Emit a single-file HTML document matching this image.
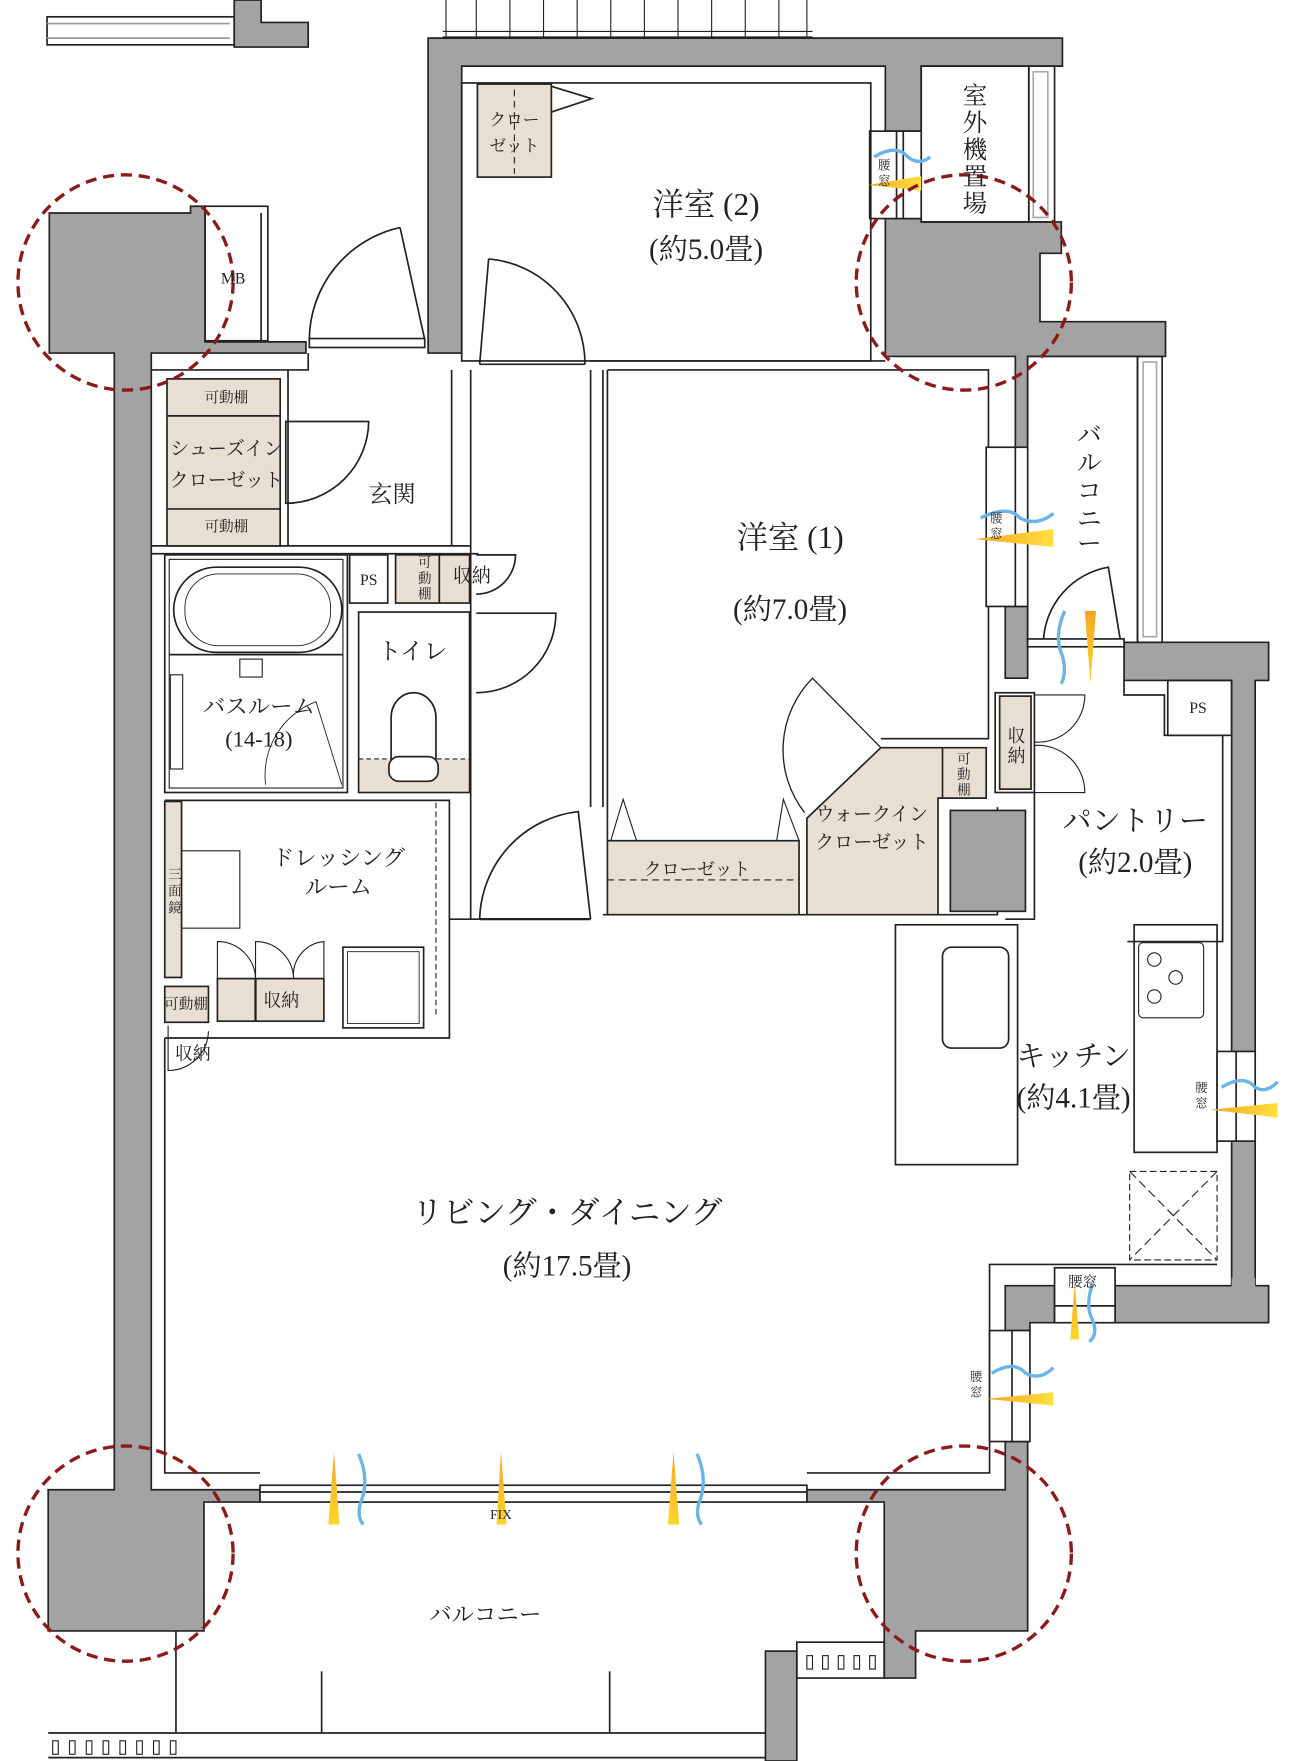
<!DOCTYPE html>
<html><head><meta charset="utf-8"><style>
html,body{margin:0;padding:0;background:#fff}
svg{display:block}
text{font-family:"Liberation Serif","Noto Serif CJK SC",serif;fill:#222;text-anchor:middle}
</style></head><body>
<svg width="1300" height="1761" viewBox="0 0 1160 1571" preserveAspectRatio="none" xmlns="http://www.w3.org/2000/svg">
<defs>
<linearGradient id="yl" x1="0" x2="1"><stop offset="0" stop-color="#f5a623"/><stop offset="1" stop-color="#ffe040"/></linearGradient>
<linearGradient id="yv" x1="0" y1="1" x2="0" y2="0"><stop offset="0" stop-color="#ffd52a"/><stop offset="1" stop-color="#f5a623"/></linearGradient>
</defs>
<g stroke="#222" stroke-width="1.5" fill="none">
<rect x="42" y="15" width="167" height="25"/>
<line x1="42" y1="21" x2="205" y2="21" stroke="#999"/><line x1="42" y1="34" x2="205" y2="34" stroke="#999"/>
<path d="M209,0 H233 V20 H275 V42 H209 Z" fill="#a3a3a3"/>
<g stroke-width="1"><path d="M395,28 H725 M395,33 H725 M398,0V35 M425,0V35 M455,0V35 M485,0V35 M515,0V35 M545,0V35 M575,0V35 M605,0V35 M635,0V35 M665,0V35 M695,0V35 M720,0V35"/></g>
<g fill="#a3a3a3">
<path d="M382,34 H948 V59 H822 V117 H790 V59 H412 V315 H382 Z"/>
<path d="M790,195 H822 V198 H947 V226 H928 V287 H1040 V318 H917 V400 H906 V318 H790 Z"/>
<rect x="897" y="541" width="20" height="64"/>
<path d="M1003,573 H1132 V607 H1120 V1147 H1099 V607 H1003 Z"/>
<path d="M897,1147 H941 V1180 H919 V1187 H897 Z"/>
<path d="M995,1147 H1132 V1180 H995 Z"/>
<rect x="1099" y="1140" width="21" height="10" stroke="none"/>
<path d="M44,190 H170 V184 H183 V305 H273 V315 H135 V1329 H182 V1329 H232 V1340 H182 V1455 H43 V1329 H102 V315 H44 Z"/>
<path d="M897,1286 H917 V1455 H817 V1497 H789 V1340 H720 V1329 H789 V1329 H897 Z"/>
<rect x="683" y="1473" width="28" height="98"/>
</g>
<rect x="917" y="318" width="98" height="255" fill="#fff"/>
<rect x="1015" y="318" width="22" height="255"/><rect x="1020" y="323" width="12" height="245" stroke="#aaa"/>
<rect x="822" y="59" width="96" height="139"/><rect x="918" y="59" width="23" height="139"/><rect x="922" y="64" width="13" height="130" stroke="#aaa"/>
<rect x="776" y="117" width="46" height="78" fill="#fff"/><line x1="800" y1="117" x2="800" y2="195"/><line x1="806" y1="117" x2="806" y2="195"/>
<rect x="183" y="184" width="56" height="120"/><line x1="233" y1="190" x2="233" y2="304"/>
<rect x="412" y="74" width="365" height="248"/>
<rect x="426" y="75" width="66" height="83" fill="#e8dfd2"/>
<path d="M492,77 L528,88 L492,100"/>
<line x1="459" y1="80" x2="459" y2="155" stroke-dasharray="6 4" stroke-width="1"/>
<path d="M276,303 H379 M379,303 L357,203 M357,203 A103,103 0 0 0 276,303"/>
<rect x="276" y="302" width="103" height="8" fill="#fff"/>
<path d="M428,325 H522 M428,325 L436,231 M436,231 A94,94 0 0 1 522,325"/>
<path d="M135,330 H257 V487 M257,330 H275 V315 M403,330 V487 M420,330 V820 M527,330 V720 M538,330 V720 M527,322 H790"/>
<path d="M135,487 H420 M135,494 H427"/>
<rect x="149" y="338" width="101" height="149" fill="#e8dfd2"/>
<line x1="149" y1="371" x2="250" y2="371"/><line x1="149" y1="454" x2="250" y2="454"/>
<path d="M255,376 H329 A74,74 0 0 1 255,449 Z" fill="none"/>
<rect x="147" y="495" width="163" height="212"/><rect x="151" y="499" width="155" height="204" stroke-width="1"/>
<rect x="155" y="506" width="150" height="76" rx="38"/><rect x="165" y="512" width="130" height="64" rx="30" stroke-width="0.8"/>
<line x1="151" y1="584" x2="306" y2="584"/>
<rect x="152" y="602" width="11" height="84" stroke-width="1"/>
<rect x="214" y="588" width="20" height="16" stroke-width="1"/>
<path d="M237,700 A70,70 0 0 1 282,626 L305,700" stroke-width="0.8"/>
<rect x="312" y="495" width="34" height="43"/>
<rect x="353" y="495" width="66" height="43" fill="#e8dfd2"/><line x1="392" y1="495" x2="392" y2="538"/>
<path d="M425,495 H460 A35,35 0 0 1 425,530"/>
<rect x="320" y="546" width="99" height="161"/>
<rect x="321" y="677" width="97" height="29" fill="#e8dfd2" stroke="none"/>
<line x1="320" y1="677" x2="419" y2="677" stroke-dasharray="4 3" stroke-width="1"/>
<path d="M349,690 V640 A20,22 0 0 1 389,640 V690 Z" fill="#fff"/>
<rect x="347" y="675" width="44" height="22" rx="9" fill="#fff"/>
<path d="M425,547 H496 A71,71 0 0 1 425,618"/>
<path d="M147,714 H401 V926 H147"/>
<rect x="147" y="715" width="15" height="157" fill="#e8dfd2"/>
<rect x="162" y="759" width="52" height="69" stroke-width="1"/>
<rect x="194" y="873" width="95" height="38" fill="#e8dfd2"/><line x1="228" y1="873" x2="228" y2="911" stroke-width="2"/>
<path d="M194,873 V840 A34,34 0 0 1 228,873 M228,873 V840 A34,34 0 0 1 262,873 A30,30 0 0 1 289,840 V873" stroke-width="1"/>
<rect x="147" y="880" width="39" height="32" fill="#e8dfd2"/>
<path d="M150,915 V955 A36,36 0 0 0 186,920" stroke-width="1"/>
<rect x="306" y="845" width="72" height="72"/><rect x="310" y="849" width="64" height="64" stroke-width="0.8"/>
<line x1="389" y1="716" x2="389" y2="908" stroke-dasharray="5 3" stroke-width="1"/>
<path d="M401,820 H428 M527,820 L516,724 A99,99 0 0 0 428,820" />
<line x1="428" y1="820" x2="527" y2="820" stroke-width="2"/>
<path d="M542,330 H882 V659 H786 M542,330 V750"/>
<path d="M538,816 H890 V720" />
<rect x="542" y="750" width="171" height="66" fill="#e8dfd2"/>
<line x1="542" y1="785" x2="713" y2="785" stroke-dasharray="6 4" stroke-width="1"/>
<line x1="722" y1="785" x2="835" y2="785" stroke-dasharray="6 4" stroke-width="1"/>
<path d="M545,750 L556,713 L568,750 M693,750 L699,713 L713,750" stroke-width="1"/>
<polygon points="786,667 880,667 880,712 837,712 837,816 720,816 720,730" fill="#e8dfd2"/>
<line x1="841" y1="667" x2="841" y2="712"/>
<path d="M786,667 L725,605 A91,91 0 0 0 718,725" stroke-width="1.2"/>
<rect x="848" y="723" width="67" height="90" fill="#a3a3a3"/>
<rect x="880" y="399" width="37" height="142" fill="#fff"/><line x1="906" y1="399" x2="906" y2="541"/>
<path d="M917,573 H1003 M1000,573 L989,506 A70,70 0 0 0 931,573"/>
<rect x="917" y="570" width="86" height="7" fill="#fff"/>
<path d="M1003,607 V620 H1039 V656 H1091 V840 H1006"/>
<rect x="1042" y="607" width="57" height="49"/>
<rect x="888" y="618" width="35" height="89"/><rect x="892" y="621" width="28" height="83" fill="#e8dfd2"/>
<path d="M923,620 H968 A42,42 0 0 1 923,662 M923,707 H968 A42,42 0 0 0 923,665" stroke-width="1"/>
<path d="M923,707 V820 H897" />
<rect x="799" y="825" width="109" height="214"/>
<rect x="841" y="845" width="59" height="90" rx="8"/>
<rect x="1012" y="825" width="74" height="203"/>
<rect x="1016" y="841" width="58" height="67" rx="4" stroke-width="1"/>
<g stroke-width="1"><circle cx="1030" cy="856" r="6"/><circle cx="1049" cy="872" r="6"/><circle cx="1030" cy="889" r="6"/></g>
<rect x="1008" y="1045" width="78" height="79" stroke-dasharray="6 3" stroke-width="1"/>
<path d="M1008,1045 L1086,1124 M1086,1045 L1008,1124" stroke-dasharray="8 4" stroke-width="1"/>
<path d="M1086,1128 H883 V1314 H720 M883,1128 V1150"/>
<rect x="1086" y="938" width="34" height="80" fill="#fff"/><line x1="1103" y1="938" x2="1103" y2="1018"/>
<rect x="941" y="1131" width="54" height="49" fill="#fff"/><line x1="941" y1="1165" x2="995" y2="1165"/>
<rect x="883" y="1187" width="36" height="99" fill="#fff"/><line x1="903" y1="1187" x2="903" y2="1286"/>
<path d="M147,926 V1314 H232"/>
<rect x="232" y="1325" width="488" height="15" fill="#fff"/><line x1="232" y1="1331" x2="720" y2="1331"/>
<path d="M43,1546 H683 M43,1568 H683 M157,1455 V1546 M287,1491 V1546 M544,1491 V1546" />
<rect x="711" y="1465" width="78" height="32"/>
</g>
<g fill="none" stroke="#222" stroke-width="1">
<rect x="47" y="1553" width="5" height="12"/><rect x="62" y="1553" width="5" height="12"/><rect x="77" y="1553" width="5" height="12"/><rect x="92" y="1553" width="5" height="12"/><rect x="107" y="1553" width="5" height="12"/><rect x="122" y="1553" width="5" height="12"/><rect x="137" y="1553" width="5" height="12"/><rect x="152" y="1553" width="5" height="12"/>
<rect x="720" y="1477" width="5" height="12"/><rect x="734" y="1477" width="5" height="12"/><rect x="748" y="1477" width="5" height="12"/><rect x="762" y="1477" width="5" height="12"/><rect x="776" y="1477" width="5" height="12"/>
</g>
<g>
<polygon points="293,1360 303,1360 298,1295" fill="url(#yv)"/>
<polygon points="443,1360 452,1360 447,1295" fill="url(#yv)"/>
<polygon points="596,1360 606,1360 601,1295" fill="url(#yv)"/>
<path d="M320,1297 Q330,1320 322,1340 Q318,1352 324,1360" stroke="#6ab4e8" stroke-width="3" fill="none"/>
<path d="M622,1297 Q632,1320 624,1340 Q620,1352 626,1360" stroke="#6ab4e8" stroke-width="3" fill="none"/>
<polygon points="968,545 978,545 973,610" fill="url(#yv)"/>
<path d="M950,545 Q940,568 948,585 Q952,600 947,610" stroke="#6ab4e8" stroke-width="3" fill="none"/>
<polygon points="870,481 940,472 940,488" fill="url(#yl)"/>
<path d="M875,462 Q900,450 910,462 Q925,470 940,458" stroke="#6ab4e8" stroke-width="3" fill="none"/>
<polygon points="775,165 822,157 822,170" fill="url(#yl)"/>
<path d="M780,140 Q800,128 810,140 Q820,148 830,140" stroke="#6ab4e8" stroke-width="3" fill="none"/>
<polygon points="1080,990 1140,984 1140,997" fill="url(#yl)"/>
<path d="M1090,970 Q1110,958 1120,970 Q1130,976 1140,965" stroke="#6ab4e8" stroke-width="3" fill="none"/>
<polygon points="955,1195 963,1195 959,1145" fill="url(#yv)"/>
<path d="M975,1145 Q968,1165 975,1178 Q980,1190 972,1197" stroke="#6ab4e8" stroke-width="3" fill="none"/>
<polygon points="880,1248 940,1242 940,1254" fill="url(#yl)"/>
<path d="M885,1225 Q905,1213 915,1225 Q928,1232 940,1220" stroke="#6ab4e8" stroke-width="3" fill="none"/>
</g>
<g fill="none" stroke="#8b1a1a" stroke-width="3" stroke-dasharray="10 6">
<circle cx="112" cy="252" r="96"/><circle cx="860" cy="252" r="96"/><circle cx="112" cy="1386" r="96"/><circle cx="860" cy="1386" r="96"/>
</g>
<text x="630" y="192" font-size="28">洋室 (2)</text>
<text x="630" y="231" font-size="26">(約5.0畳)</text>
<g font-size="22"><text x="870" y="93">室</text><text x="870" y="117">外</text><text x="870" y="141">機</text><text x="870" y="165">置</text><text x="870" y="189">場</text></g>
<text x="459" y="112" font-size="15">クロー</text><text x="459" y="135" font-size="15">ゼット</text>
<text x="208" y="253" font-size="14">MB</text>
<text x="202" y="359" font-size="13">可動棚</text>
<text x="202" y="406" font-size="17">シューズイン</text><text x="202" y="434" font-size="17">クローゼット</text>
<text x="202" y="474" font-size="13">可動棚</text>
<text x="350" y="448" font-size="21">玄関</text>
<text x="329" y="522" font-size="14">PS</text>
<g font-size="12"><text x="379" y="506">可</text><text x="379" y="520">動</text><text x="379" y="534">棚</text></g>
<text x="421" y="519" font-size="17">収納</text>
<text x="368" y="588" font-size="21">トイレ</text>
<text x="231" y="637" font-size="20">バスルーム</text><text x="231" y="666" font-size="20">(14-18)</text>
<text x="302" y="772" font-size="20">ドレッシング</text><text x="302" y="798" font-size="20">ルーム</text>
<g font-size="12"><text x="156" y="784">三</text><text x="156" y="799">面</text><text x="156" y="814">鏡</text></g>
<text x="166" y="900" font-size="13">可動棚</text>
<text x="251" y="898" font-size="16">収納</text>
<text x="172" y="945" font-size="16">収納</text>
<text x="705" y="489" font-size="28">洋室 (1)</text>
<text x="705" y="552" font-size="26">(約7.0畳)</text>
<g font-size="22"><text x="972" y="395">バ</text><text x="972" y="420">ル</text><text x="972" y="445">コ</text><text x="972" y="470">ニ</text><text x="972" y="492">ー</text></g>
<g font-size="11"><text x="889" y="466">腰</text><text x="889" y="480">窓</text><text x="789" y="151">腰</text><text x="789" y="165">窓</text><text x="1072" y="974">腰</text><text x="1072" y="988">窓</text><text x="871" y="1232">腰</text><text x="871" y="1246">窓</text></g>
<text x="966" y="1148" font-size="13">腰窓</text>
<g font-size="16"><text x="907" y="662">収</text><text x="907" y="680">納</text></g>
<text x="1069" y="636" font-size="14">PS</text>
<g font-size="12"><text x="860" y="681">可</text><text x="860" y="695">動</text><text x="860" y="709">棚</text></g>
<text x="778" y="732" font-size="17">ウォークイン</text><text x="778" y="757" font-size="17">クローゼット</text>
<text x="622" y="781" font-size="16">クローゼット</text>
<text x="1013" y="741" font-size="26">パントリー</text><text x="1013" y="778" font-size="26">(約2.0畳)</text>
<text x="958" y="951" font-size="26">キッチン</text><text x="958" y="988" font-size="26">(約4.1畳)</text>
<text x="506" y="1091" font-size="28">リビング・ダイニング</text>
<text x="506" y="1138" font-size="26">(約17.5畳)</text>
<text x="447" y="1355" font-size="12">FIX</text>
<text x="433" y="1447" font-size="20">バルコニー</text>
</svg>
</body></html>
